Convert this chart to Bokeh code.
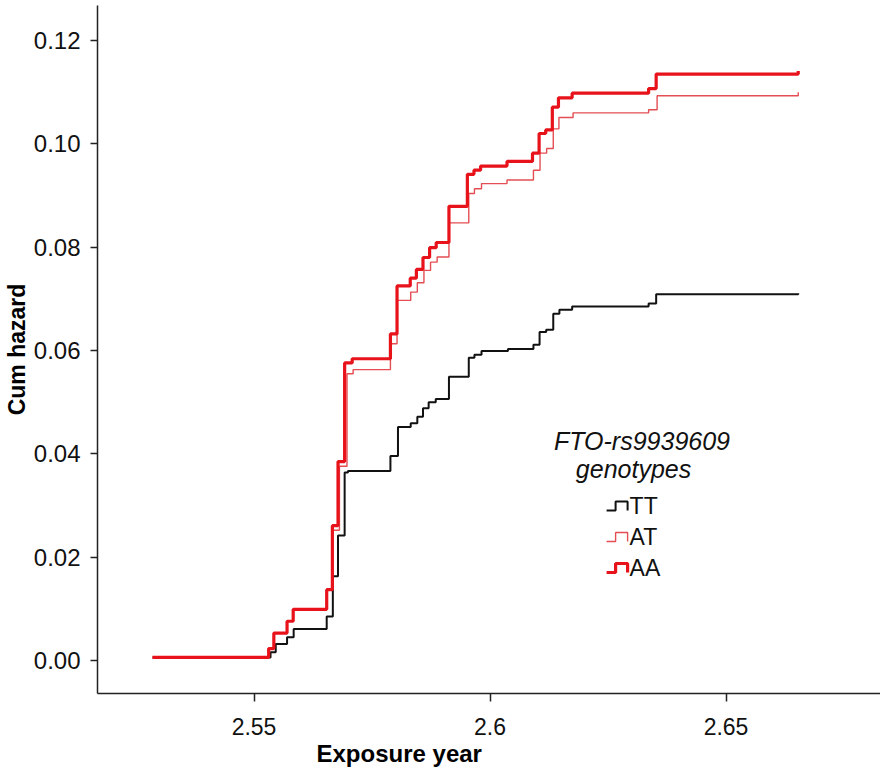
from bokeh.plotting import figure
from bokeh.models import Range1d, FixedTicker, NumeralTickFormatter, Label, Title
from bokeh.embed import file_html
from bokeh.resources import INLINE

# ---- data ----
tt_time = [2.5285, 2.5535, 2.5546, 2.5570, 2.5584, 2.5654, 2.5667, 2.5678, 2.5692, 2.5699,
           2.5789, 2.5805, 2.5832, 2.5846, 2.5858, 2.5870, 2.5885, 2.5913, 2.5955, 2.5967,
           2.5982, 2.6038, 2.6092, 2.6105, 2.6119, 2.6134, 2.6147, 2.6174, 2.6336, 2.6352, 2.6653]
tt_haz = [0.0006, 0.0016, 0.0032, 0.0045, 0.0061, 0.0085, 0.0163, 0.0242, 0.0364, 0.0367,
          0.0396, 0.0452, 0.0459, 0.0472, 0.0488, 0.0500, 0.0506, 0.0549, 0.0586, 0.0592,
          0.0599, 0.0603, 0.0611, 0.0636, 0.0640, 0.0671, 0.0679, 0.0685, 0.0691, 0.0709, 0.0711]

at_time = [2.5285, 2.5531, 2.5542, 2.5570, 2.5583, 2.5654, 2.5666, 2.5681, 2.5697, 2.5710,
           2.5789, 2.5803, 2.5832, 2.5846, 2.5860, 2.5874, 2.5888, 2.5913, 2.5955, 2.5967,
           2.5982, 2.6036, 2.6092, 2.6106, 2.6120, 2.6134, 2.6146, 2.6176, 2.6336, 2.6354, 2.6653]
at_haz = [0.0006, 0.0023, 0.0053, 0.0076, 0.0099, 0.0137, 0.0252, 0.0376, 0.0555, 0.0563,
          0.0613, 0.0697, 0.0713, 0.0731, 0.0755, 0.0771, 0.0781, 0.0847, 0.0904, 0.0913,
          0.0923, 0.0930, 0.0949, 0.0982, 0.0991, 0.1029, 0.1051, 0.1060, 0.1066, 0.1093, 0.1100]

aa_time = [2.5285, 2.5531, 2.5542, 2.5570, 2.5583, 2.5654, 2.5666, 2.5678, 2.5692, 2.5708,
           2.5789, 2.5803, 2.5831, 2.5844, 2.5858, 2.5872, 2.5886, 2.5913, 2.5952, 2.5966,
           2.5980, 2.6036, 2.6090, 2.6104, 2.6118, 2.6132, 2.6145, 2.6174, 2.6336, 2.6352, 2.6653]
aa_haz = [0.0006, 0.0023, 0.0053, 0.0076, 0.0099, 0.0137, 0.0261, 0.0385, 0.0576, 0.0584,
          0.0632, 0.0725, 0.0740, 0.0757, 0.0780, 0.0799, 0.0809, 0.0879, 0.0941, 0.0949,
          0.0957, 0.0966, 0.0982, 0.1020, 0.1027, 0.1071, 0.1089, 0.1098, 0.1107, 0.1135, 0.1141]

y_ticks = [0.00, 0.02, 0.04, 0.06, 0.08, 0.10, 0.12]
x_ticks = [2.55, 2.6, 2.65]
x_tick_labels = ["2.55", "2.6", "2.65"]

x_title = "Exposure year"
y_title = "Cum hazard"
legend_title = ["FTO-rs9939609", "genotypes"]
legend_labels = ["TT", "AT", "AA"]

# ---- styles ----
colors = {"TT": "#111111", "AT": "#e44e53", "AA": "#e8121b"}
widths = {"TT": 2.0, "AT": 1.4, "AA": 3.2}
FONT = "Liberation Sans"

p = figure(frame_width=783, frame_height=688, output_backend="svg", toolbar_location=None,
           x_range=Range1d(2.51684, 2.68273), y_range=Range1d(-0.006387, 0.126774),
           min_border_left=97, min_border_right=0, min_border_top=5, min_border_bottom=80)
p.outline_line_color = None
p.xgrid.visible = False
p.ygrid.visible = False
p.background_fill_color = "white"
p.border_fill_color = "white"

series = [("TT", tt_time, tt_haz), ("AT", at_time, at_haz), ("AA", aa_time, aa_haz)]
for name, t, h in series:
    p.step(t, h, mode="after", line_color=colors[name], line_width=widths[name])

# axes
for ax in (p.xaxis[0], p.yaxis[0]):
    ax.axis_line_color = "#222222"
    ax.axis_line_width = 1.5
    ax.major_tick_line_color = "#222222"
    ax.major_tick_line_width = 1.5
    ax.minor_tick_line_color = None
    ax.major_tick_in = 0
    ax.axis_label_text_font = FONT
    ax.axis_label_text_font_style = "bold"
    ax.axis_label_text_color = "black"
    ax.major_label_text_color = "#111111"
    ax.major_label_text_font = FONT

p.yaxis.ticker = FixedTicker(ticks=y_ticks)
p.yaxis.formatter = NumeralTickFormatter(format="0.00")
p.yaxis.major_tick_out = 7
p.yaxis.major_label_standoff = 10
p.yaxis.major_label_text_font_size = "24px"
p.yaxis.axis_label = y_title
p.yaxis.axis_label_text_font_size = "23px"
p.yaxis.axis_label_standoff = 1

p.xaxis.ticker = FixedTicker(ticks=x_ticks)
p.xaxis.major_label_overrides = {t: s for t, s in zip(x_ticks, x_tick_labels)}
p.xaxis.major_tick_out = 8
p.xaxis.major_label_standoff = 16
p.xaxis.major_label_text_font_size = "23px"

# x-axis title sits left of the frame centre in the reference
p.add_layout(Title(text=x_title, align="left", offset=219, standoff=0,
                   text_font=FONT, text_font_style="bold", text_font_size="24px",
                   text_color="black"), "below")

# ---- legend (drawn by hand to keep SPSS-style step keys) ----
px_y = 0.12 / 620.0   # data units per pixel (y)
px_x = 1 / 4720.0     # data units per pixel (x)
title_x = [2.6322, 2.6304]
title_y = [0.0424, 0.0370]
for txt, tx, ty in zip(legend_title, title_x, title_y):
    p.add_layout(Label(x=tx, y=ty, text=txt, text_align="center", text_baseline="middle",
                       text_font=FONT, text_font_style="italic",
                       text_font_size="25px", text_color="#111111"))

key_x0 = 2.6247
key_y0 = 0.0300
row_step = 31 * px_y
for i, name in enumerate(legend_labels):
    yc = key_y0 - i * row_step
    lo = yc - 5 * px_y
    hi = yc + 4 * px_y
    xs = [key_x0, key_x0 + 9 * px_x, key_x0 + 9 * px_x, key_x0 + 21 * px_x, key_x0 + 21 * px_x]
    ys = [lo, lo, hi, hi, lo]
    p.line(xs, ys, line_color=colors[name], line_width=widths[name])
    p.add_layout(Label(x=key_x0 + 23 * px_x, y=yc, text=name, text_align="left",
                       text_baseline="middle", text_font=FONT,
                       text_font_size="23px", text_color="#111111"))

open("out.html", "w").write(file_html(p, INLINE))
